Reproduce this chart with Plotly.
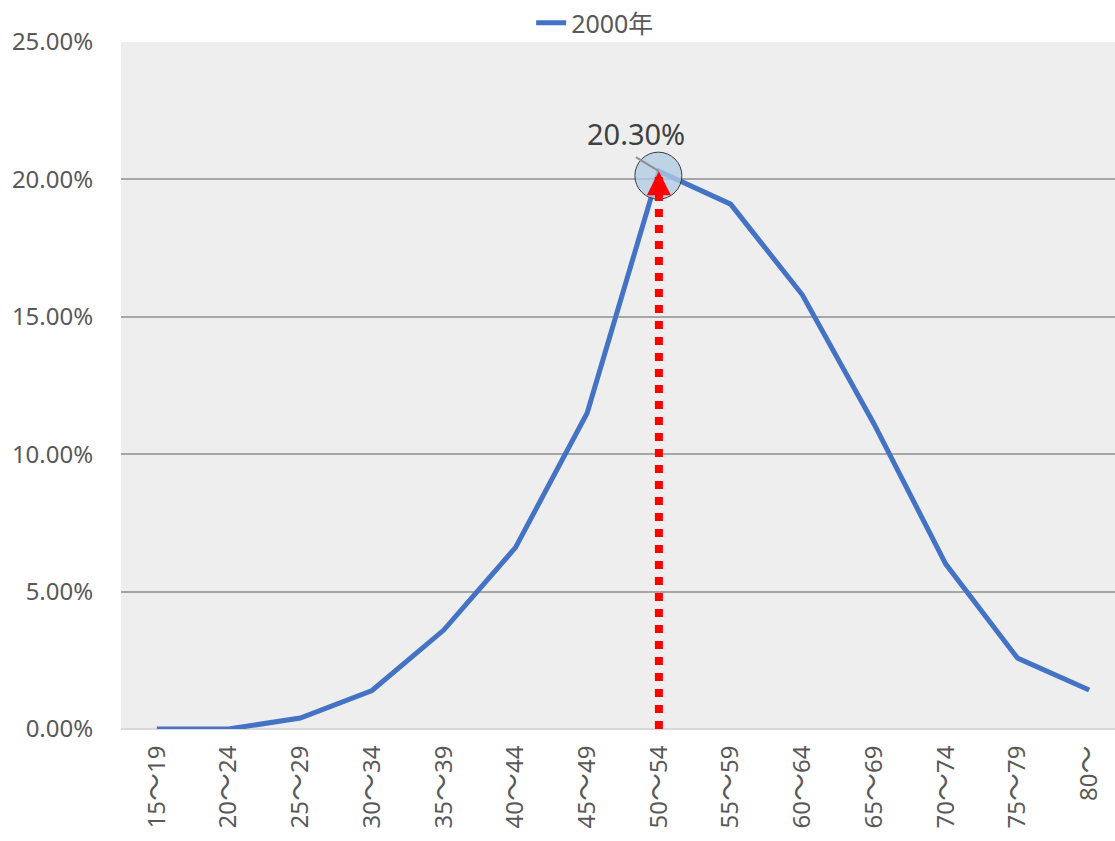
import plotly.graph_objects as go

# Age bands and the share of each band in 2000 (percent)
age_groups = ["15〜19", "20〜24", "25〜29", "30〜34", "35〜39", "40〜44", "45〜49",
              "50〜54", "55〜59", "60〜64", "65〜69", "70〜74", "75〜79", "80〜"]
share_2000 = [0.0, 0.0, 0.4, 1.4, 3.6, 6.6, 11.5, 20.3, 19.1, 15.8, 11.1, 6.0, 2.58, 1.42]
series_name = "2000年"
y_ticks = [0, 5, 10, 15, 20, 25]
y_tick_text = [f"{v:.2f}%" for v in y_ticks]

peak_idx = max(range(len(share_2000)), key=lambda i: share_2000[i])
peak_cat = age_groups[peak_idx]
peak_val = share_2000[peak_idx]

FONT = "Noto Sans, Noto Sans CJK JP, sans-serif"
CJK = "Noto Sans CJK JP"
GRAY_TXT = "#595959"
LINE_BLUE = "#4472C4"

# slightly wider wave dash in the category labels
x_tick_text = [g.replace("〜", f'<span style="font-family:{CJK};font-size:28px">〜</span>')
               for g in age_groups]

fig = go.Figure()
fig.add_trace(go.Scatter(
    x=age_groups, y=share_2000, name=series_name, mode="lines",
    line=dict(color=LINE_BLUE, width=5),
))

shapes = [
    # highlight circle around the peak
    dict(type="circle", xref="x", yref="y", xsizemode="pixel", ysizemode="pixel",
         xanchor=peak_cat, yanchor=peak_val, x0=-24, x1=23, y0=-28, y1=19,
         fillcolor="rgba(178,204,230,0.78)", line=dict(color="#3a3a3a", width=1),
         layer="above"),
    # leader line from the label to the peak
    dict(type="line", xref="x", yref="y", xsizemode="pixel", ysizemode="pixel",
         xanchor=peak_cat, yanchor=peak_val, x0=-23, y0=14, x1=0, y1=0,
         line=dict(color="#8f8f8f", width=2), layer="above"),
    # red dotted drop line under the peak
    dict(type="line", xref="x", yref="y", x0=peak_cat, x1=peak_cat, y0=0, y1=peak_val,
         line=dict(color="#FF0000", width=8, dash="8px,8px"), layer="above"),
]

annotations = [
    # arrow head at the peak
    dict(x=peak_cat, y=peak_val, xref="x", yref="y", text="", showarrow=True,
         ax=0, ay=24, arrowhead=2, arrowsize=2.4, arrowwidth=2, arrowcolor="#FF0000",
         standoff=0),
    # peak value label
    dict(x=peak_cat, y=peak_val, xref="x", yref="y", text=f"{peak_val:.2f}%",
         showarrow=False, xshift=-23, yshift=38,
         font=dict(family=FONT, size=29, color="#404040")),
]

fig.update_layout(
    width=1115, height=841,
    margin=dict(l=121, r=0, t=42, b=112, autoexpand=False),
    paper_bgcolor="white", plot_bgcolor="#EEEEEE",
    font=dict(family=FONT, size=24, color=GRAY_TXT),
    showlegend=True,
    legend=dict(orientation="h", x=0.477, xanchor="center", y=1.0, yanchor="top",
                yref="container", font=dict(family=FONT, size=25, color=GRAY_TXT),
                bgcolor="rgba(0,0,0,0)"),
    shapes=shapes, annotations=annotations,
    xaxis=dict(type="category", range=[-0.5, 13.36], tickangle=-90,
               tickvals=age_groups, ticktext=x_tick_text,
               showgrid=False, showline=False, zeroline=False,
               ticks="outside", ticklen=6, tickcolor="rgba(0,0,0,0)",
               tickfont=dict(family=FONT, size=24, color=GRAY_TXT)),
    yaxis=dict(range=[0, 25], tickvals=y_ticks, ticktext=y_tick_text,
               showgrid=True, gridcolor="#A6A6A6", gridwidth=2,
               zeroline=True, zerolinecolor="#D9D9D9", zerolinewidth=2,
               showline=False, ticks="outside", ticklen=22, tickcolor="rgba(0,0,0,0)",
               tickfont=dict(family=FONT, size=24, color=GRAY_TXT)),
)

fig.write_html("out.html")
